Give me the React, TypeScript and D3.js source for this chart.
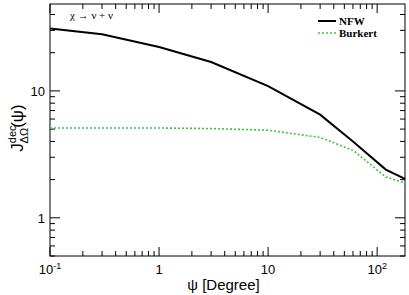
import React from "react";
import * as d3 from "d3";

const psi = [0.1, 0.3, 1, 3, 10, 30, 60, 120, 180];
const nfw = [31, 28, 22.2, 16.9, 10.9, 6.5, 4.0, 2.4, 2.03];
const burkert = [5.1, 5.1, 5.1, 5.05, 4.9, 4.3, 3.4, 2.1, 1.88];
const xTicks = [0.1, 1, 10, 100];
const xTickLabels = [["10", "-1"], ["1", ""], ["10", ""], ["10", "2"]];
const yTicks = [1, 10];
const yTickLabels = ["1", "10"];

const W = 409;
const H = 295;
const margin = { top: 4, right: 4, bottom: 39, left: 50 };

const App = () => {
  const x = d3.scaleLog().domain([0.1, 180]).range([margin.left, W - margin.right]);
  const y = d3.scaleLog().domain([0.5, 48.4]).range([H - margin.bottom, margin.top]);
  const x0 = margin.left, x1 = W - margin.right;
  const y0 = H - margin.bottom, y1 = margin.top;

  const line = d3
    .line<number>()
    .x((d, i) => x(psi[i]))
    .y((d) => y(d));

  // minor ticks for log axes
  const xMinor: number[] = [];
  for (let dec = 0.1; dec < 200; dec *= 10)
    for (let k = 2; k <= 9; k++) if (dec * k <= 180) xMinor.push(dec * k);
  const yMinor: number[] = [];
  for (let dec = 0.1; dec < 50; dec *= 10)
    for (let k = 2; k <= 9; k++) if (dec * k >= 0.5 && dec * k <= 48.4) yMinor.push(dec * k);

  const font = "Liberation Sans, Arial, sans-serif";
  const serif = "Liberation Serif, Times New Roman, serif";

  return (
    <svg width={W} height={H} style={{ position: "absolute", left: 0, top: 0, background: "white" }}>
      <rect x={x0} y={y1} width={x1 - x0} height={y0 - y1} fill="none" stroke="#000" strokeWidth={1} />
      {xTicks.map((t) => (
        <g key={"xt" + t}>
          <line x1={x(t)} x2={x(t)} y1={y0} y2={y0 - 9} stroke="#000" />
          <line x1={x(t)} x2={x(t)} y1={y1} y2={y1 + 9} stroke="#000" />
        </g>
      ))}
      {xMinor.map((t) => (
        <g key={"xm" + t}>
          <line x1={x(t)} x2={x(t)} y1={y0} y2={y0 - 5} stroke="#000" />
          <line x1={x(t)} x2={x(t)} y1={y1} y2={y1 + 5} stroke="#000" />
        </g>
      ))}
      {yTicks.map((t) => (
        <g key={"yt" + t}>
          <line x1={x0} x2={x0 + 10} y1={y(t)} y2={y(t)} stroke="#000" />
          <line x1={x1} x2={x1 - 10} y1={y(t)} y2={y(t)} stroke="#000" />
        </g>
      ))}
      {yMinor.map((t) => (
        <g key={"ym" + t}>
          <line x1={x0} x2={x0 + 5} y1={y(t)} y2={y(t)} stroke="#000" />
          <line x1={x1} x2={x1 - 5} y1={y(t)} y2={y(t)} stroke="#000" />
        </g>
      ))}
      {xTicks.map((t, i) => (
        <text key={"xl" + t} x={x(t)} y={y0 + 18} fontFamily={font} fontSize={13} textAnchor="middle" fill="#000">
          {xTickLabels[i][0]}
          {xTickLabels[i][1] && (
            <tspan dy={-5} fontSize={9}>{xTickLabels[i][1]}</tspan>
          )}
        </text>
      ))}
      {yTicks.map((t, i) => (
        <text key={"yl" + t} x={x0 - 5} y={y(t) + 5} fontFamily={font} fontSize={13} textAnchor="end" fill="#000">
          {yTickLabels[i]}
        </text>
      ))}
      <text x={(x0 + x1) / 2 - 4} y={H - 5} fontFamily={font} fontSize={15} textAnchor="middle" fill="#000">
        ψ [Degree]
      </text>
      <text transform={`translate(23,${(y0 + y1) / 2 - 2}) rotate(-90)`} fontFamily={font} fontSize={17} textAnchor="middle" fill="#000">
        J
        <tspan fontSize={11} dy={-7}>dec</tspan>
        <tspan fontSize={11} dx={-18} dy={12}>ΔΩ</tspan>
        <tspan dy={-5}>(ψ)</tspan>
      </text>
      <text x={70} y={19} fontFamily={serif} fontSize={11} fill="#000">
        χ → ν + ν
      </text>
      <path d={line(nfw) || ""} fill="none" stroke="#000" strokeWidth={2} />
      <path d={line(burkert) || ""} fill="none" stroke="#33cc33" strokeWidth={1.6} strokeDasharray="2,2" />
      <line x1={318} x2={336} y1={21} y2={21} stroke="#000" strokeWidth={2} />
      <text x={339} y={25} fontFamily={serif} fontSize={11} fontWeight="bold" fill="#000">NFW</text>
      <line x1={318} x2={336} y1={33} y2={33} stroke="#33cc33" strokeWidth={1.6} strokeDasharray="2,2" />
      <text x={339} y={37} fontFamily={serif} fontSize={11} fontWeight="bold" fill="#000">Burkert</text>
    </svg>
  );
};

export default App;
